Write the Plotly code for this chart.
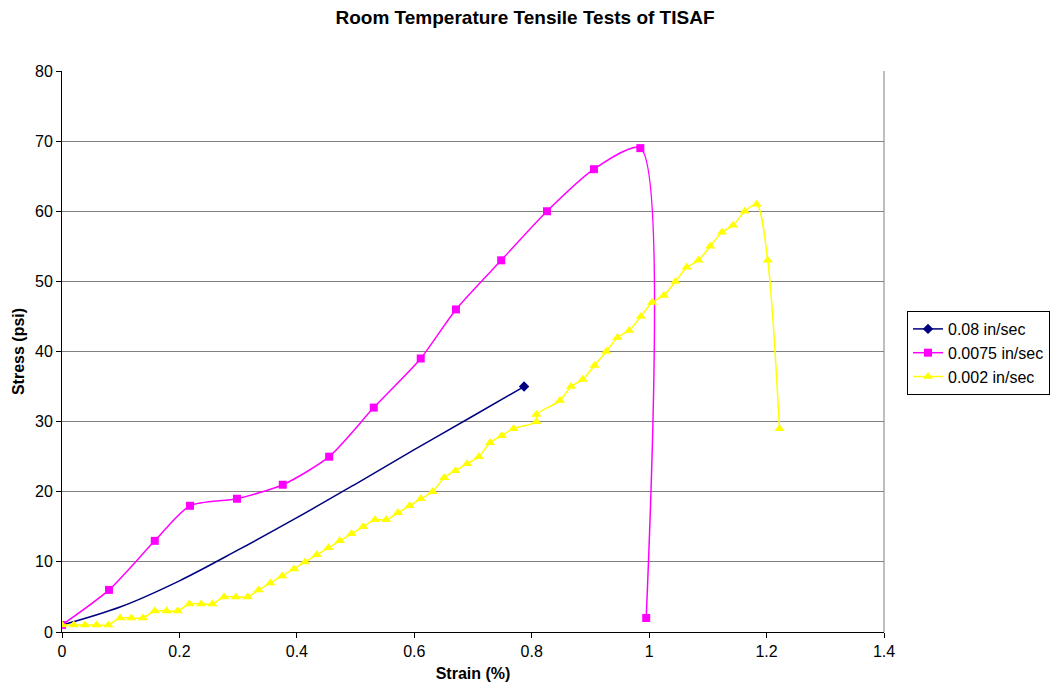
import plotly.graph_objects as go

# Strain (%) / stress (psi) readings for each crosshead speed
strain_008 = [0.0, 0.1, 0.2, 0.3, 0.4, 0.5, 0.6, 0.7, 0.787]
stress_008 = [1.0, 3.6, 7.3, 11.7, 16.3, 21.1, 26.0, 30.8, 35.0]

strain_0075 = [0.0, 0.080, 0.158, 0.218, 0.298, 0.376, 0.455, 0.531, 0.611,
               0.671, 0.748, 0.826, 0.906, 0.985, 0.995]
stress_0075 = [1, 6, 13, 18, 19, 21, 25, 32, 39, 46, 53, 60, 66, 69, 2]

strain_002 = [0.0, 0.020, 0.039, 0.059, 0.079, 0.099, 0.118, 0.138, 0.158, 0.178,
              0.197, 0.217, 0.237, 0.256, 0.276, 0.296, 0.316, 0.335, 0.355, 0.375,
              0.395, 0.414, 0.434, 0.454, 0.473, 0.493, 0.513, 0.533, 0.552, 0.572,
              0.592, 0.611, 0.631, 0.651, 0.670, 0.690, 0.710, 0.729, 0.749, 0.769,
              0.808, 0.808, 0.848, 0.867, 0.887, 0.907, 0.927, 0.946, 0.966, 0.986,
              1.005, 1.025, 1.045, 1.064, 1.084, 1.104, 1.124, 1.143, 1.163, 1.183,
              1.202, 1.222]
stress_002 = [1, 1, 1, 1, 1, 2, 2, 2, 3, 3,
              3, 4, 4, 4, 5, 5, 5, 6, 7, 8,
              9, 10, 11, 12, 13, 14, 15, 16, 16, 17,
              18, 19, 20, 22, 23, 24, 25, 27, 28, 29,
              30, 31, 33, 35, 36, 38, 40, 42, 43, 45,
              47, 48, 50, 52, 53, 55, 57, 58, 60, 61,
              53, 29]

x_ticks = [0, 0.2, 0.4, 0.6, 0.8, 1.0, 1.2, 1.4]
y_ticks = [0, 10, 20, 30, 40, 50, 60, 70, 80]

NAVY = "#000080"
MAGENTA = "#FF00FF"
YELLOW = "#FFFF00"
FONT = "Arial, 'Liberation Sans', sans-serif"

fig = go.Figure()

# 0.08 in/sec: smooth curve, marker only on the final reading
fig.add_trace(go.Scatter(
    x=strain_008, y=stress_008, mode="lines",
    line=dict(color=NAVY, width=1.5, shape="spline", smoothing=1.0),
    showlegend=False, legendgroup="a", hoverinfo="skip"))
fig.add_trace(go.Scatter(
    x=strain_008[-1:], y=stress_008[-1:], mode="lines+markers", name="0.08 in/sec",
    legendgroup="a", line=dict(color=NAVY, width=1.5),
    marker=dict(symbol="diamond", size=8, color=NAVY)))

fig.add_trace(go.Scatter(
    x=strain_0075, y=stress_0075, mode="lines+markers", name="0.0075 in/sec",
    line=dict(color=MAGENTA, width=1.5, shape="spline", smoothing=0.7),
    marker=dict(symbol="square", size=8, color=MAGENTA)))

fig.add_trace(go.Scatter(
    x=strain_002, y=stress_002, mode="lines+markers", name="0.002 in/sec",
    line=dict(color=YELLOW, width=1.5, shape="spline", smoothing=0.8),
    marker=dict(symbol="triangle-up", size=9, color=YELLOW)))

fig.update_layout(
    width=1050, height=694,
    margin=dict(l=62, r=166, t=71, b=62, autoexpand=False),
    paper_bgcolor="white", plot_bgcolor="white",
    font=dict(family=FONT, size=16, color="black"),
    title=dict(text="<b>Room Temperature Tensile Tests of TISAF</b>",
               x=0.5, xref="container", xanchor="center",
               y=1 - 17 / 694, yref="container", yanchor="middle",
               font=dict(size=19, family=FONT)),
    legend=dict(x=907 / 1050, y=1 - 311 / 694, xref="container", yref="container",
                xanchor="left", yanchor="top",
                bordercolor="black", borderwidth=1, bgcolor="white",
                font=dict(size=16, family=FONT), tracegroupgap=0, itemwidth=30),
    showlegend=True,
)

fig.update_xaxes(
    range=[0, 1.4], tickvals=x_ticks, ticks="outside", ticklen=5, tickcolor="black",
    showline=True, linecolor="black", linewidth=1, mirror=False,
    showgrid=False, zeroline=False,
    title=dict(text="<b>Strain (%)</b>", font=dict(size=16), standoff=8),
    tickfont=dict(size=16))
fig.update_yaxes(
    range=[0, 80], tickvals=y_ticks, ticks="outside", ticklen=5, tickcolor="black",
    showline=True, linecolor="black", linewidth=1,
    showgrid=True, gridcolor="#808080", gridwidth=1, zeroline=False,
    title=dict(text="<b>Stress (psi)</b>", font=dict(size=16), standoff=6),
    tickfont=dict(size=16))

# plot-area frame on the right edge
fig.add_shape(type="line", xref="paper", yref="paper", x0=1, x1=1, y0=0, y1=1,
              line=dict(color="#808080", width=1), layer="below")

fig.write_html("out.html")
